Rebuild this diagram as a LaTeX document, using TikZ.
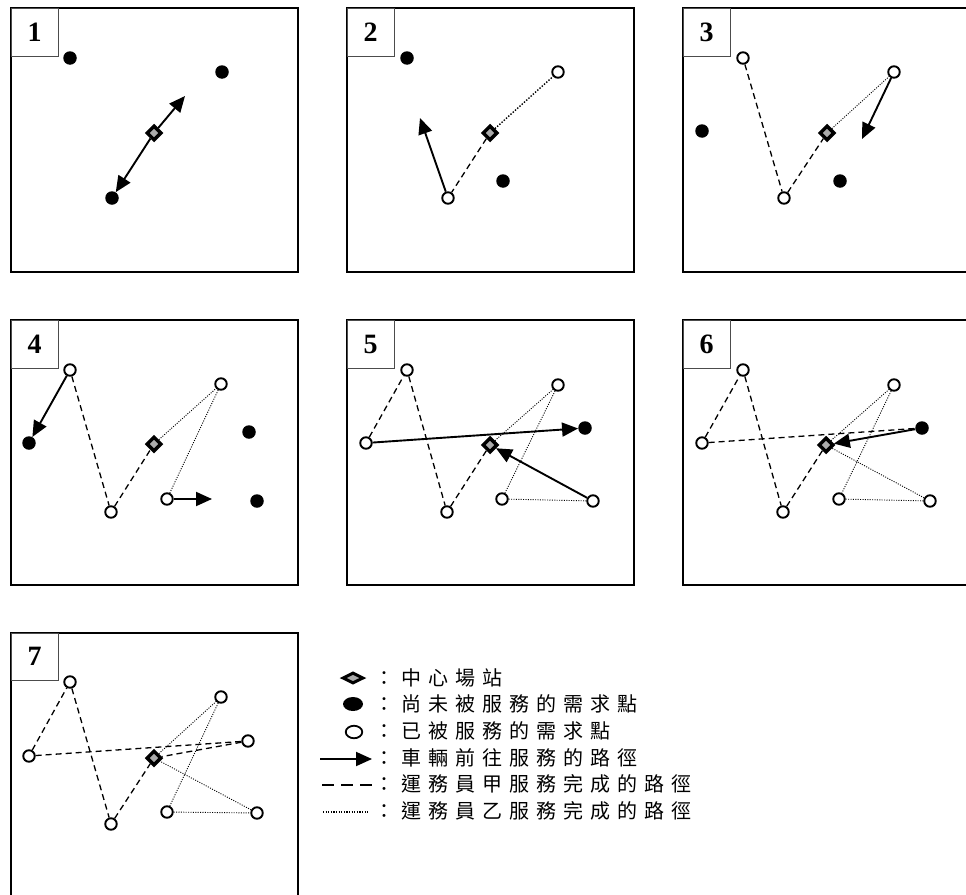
\documentclass[tikz,border=0pt]{standalone}
\usepackage{fontspec}
\setmainfont{Liberation Serif}
\newfontfamily\cjk[LetterSpace=35]{Noto Sans CJK TC}
\usetikzlibrary{shapes.geometric,arrows.meta}

\tikzset{
  panel/.style={draw=black,line width=1.3pt,fill=white},
  labelbox/.style={draw=black!70,line width=0.6pt,fill=white},
  num/.style={font=\fontsize{28}{28}\selectfont\bfseries,inner sep=0pt},
  depot/.style={shape=diamond,draw=black,line width=3.5pt,fill=black!33,minimum size=15pt,inner sep=0pt},
  unserved/.style={circle,fill=black,minimum size=13.5pt,inner sep=0pt},
  served/.style={circle,draw=black,line width=1.9pt,fill=white,minimum size=11.5pt,inner sep=0pt},
  moving/.style={line width=1.9pt,-{Triangle[length=16pt,width=14pt]}},
  routeA/.style={line width=1.3pt,dash pattern=on 6pt off 4pt},
  routeB/.style={line width=0.9pt,dash pattern=on 1pt off 1.4pt},
  routeBb/.style={line width=1.4pt,dash pattern=on 1.4pt off 1.6pt},
  legtxt/.style={anchor=west,inner sep=0pt,font=\cjk\fontsize{20}{20}\selectfont},
}

\begin{document}
\begin{tikzpicture}[x=1pt,y=-1pt]
\useasboundingbox (0,0) rectangle (966,894);
\clip (0,0) rectangle (966,894);

% ---------- panel 1 ----------
\begin{scope}[shift={(11,8)},name prefix=p1-]
  \draw[panel] (0,0) rectangle (287,264);
  \draw[labelbox] (0,0) rectangle (47,48);
  \node[num] (n) at (23.5,24) {1};
  \node[unserved] (A) at (59,50) {};
  \node[unserved] (B) at (211,64) {};
  \node[depot] (D) at (143,125) {};
  \node[unserved] (C) at (101,190) {};
  \coordinate (t) at (174,88);
  \draw[moving] (D) -- (t);
  \draw[moving] (D) -- (C);
\end{scope}

% ---------- panel 2 ----------
\begin{scope}[shift={(347,8)},name prefix=p2-]
  \draw[panel] (0,0) rectangle (287,264);
  \draw[labelbox] (0,0) rectangle (47,48);
  \node[num] (n) at (23.5,24) {2};
  \node[unserved] (A) at (60,50) {};
  \node[served] (B) at (211,64) {};
  \node[depot] (D) at (143,125) {};
  \node[unserved] (E) at (156,173) {};
  \node[served] (C) at (101,190) {};
  \coordinate (t) at (73,110);
  \draw[routeA] (D) -- (C);
  \draw[routeBb] (D) -- (B);
  \draw[moving] (C) -- (t);
\end{scope}

% ---------- panel 3 ----------
\begin{scope}[shift={(683,8)},name prefix=p3-]
  \draw[panel] (0,0) rectangle (287,264);
  \draw[labelbox] (0,0) rectangle (47,48);
  \node[num] (n) at (23.5,24) {3};
  \node[served] (A) at (60,50) {};
  \node[served] (B) at (211,64) {};
  \node[unserved] (F) at (19,123) {};
  \node[depot] (D) at (144,125) {};
  \node[unserved] (E) at (157,173) {};
  \node[served] (C) at (101,190) {};
  \coordinate (t) at (179,131);
  \draw[routeA] (A) -- (C);
  \draw[routeA] (C) -- (D);
  \draw[routeB] (D) -- (B);
  \draw[moving] (B) -- (t);
\end{scope}

% ---------- panel 4 ----------
\begin{scope}[shift={(11,320)},name prefix=p4-]
  \draw[panel] (0,0) rectangle (287,265);
  \draw[labelbox] (0,0) rectangle (47,48);
  \node[num] (n) at (23.5,24) {4};
  \node[served] (A) at (59,50) {};
  \node[unserved] (F) at (18,123) {};
  \node[depot] (D) at (143,124) {};
  \node[served] (B) at (210,64) {};
  \node[unserved] (G) at (238,112) {};
  \node[served] (E) at (156,179) {};
  \node[unserved] (H) at (246,181) {};
  \node[served] (C) at (100,192) {};
  \coordinate (t) at (201,179);
  \draw[routeA] (A) -- (C);
  \draw[routeA] (C) -- (D);
  \draw[routeB] (D) -- (B);
  \draw[routeB] (B) -- (E);
  \draw[moving] (A) -- (F);
  \draw[moving] (E) -- (t);
\end{scope}

% ---------- panel 5 ----------
\begin{scope}[shift={(347,320)},name prefix=p5-]
  \draw[panel] (0,0) rectangle (287,265);
  \draw[labelbox] (0,0) rectangle (47,48);
  \node[num] (n) at (23.5,24) {5};
  \node[served] (A) at (60,50) {};
  \node[served] (F) at (19,123) {};
  \node[depot] (D) at (143,125) {};
  \node[served] (B) at (211,65) {};
  \node[unserved] (G) at (238,108) {};
  \node[served] (E) at (155,179) {};
  \node[served] (H) at (246,181) {};
  \node[served] (C) at (100,192) {};
  \draw[routeA] (F) -- (A);
  \draw[routeA] (A) -- (C);
  \draw[routeA] (C) -- (D);
  \draw[routeB] (D) -- (B);
  \draw[routeB] (B) -- (E);
  \draw[routeB] (E) -- (H);
  \draw[moving] (F) -- (G);
  \draw[moving] (H) -- (D);
\end{scope}

% ---------- panel 6 ----------
\begin{scope}[shift={(683,320)},name prefix=p6-]
  \draw[panel] (0,0) rectangle (287,265);
  \draw[labelbox] (0,0) rectangle (47,48);
  \node[num] (n) at (23.5,24) {6};
  \node[served] (A) at (60,50) {};
  \node[served] (F) at (19,123) {};
  \node[depot] (D) at (143,125) {};
  \node[served] (B) at (211,65) {};
  \node[unserved] (G) at (239,108) {};
  \node[served] (E) at (156,179) {};
  \node[served] (H) at (247,181) {};
  \node[served] (C) at (100,192) {};
  \draw[routeA] (F) -- (A);
  \draw[routeA] (A) -- (C);
  \draw[routeA] (C) -- (D);
  \draw[routeA] (F) -- (G);
  \draw[routeB] (D) -- (B);
  \draw[routeB] (B) -- (E);
  \draw[routeB] (E) -- (H);
  \draw[routeB] (H) -- (D);
  \draw[moving] (G) -- (D);
\end{scope}

% ---------- panel 7 ----------
\begin{scope}[shift={(11,633)},name prefix=p7-]
  \draw[panel] (0,0) rectangle (287,265);
  \draw[labelbox] (0,0) rectangle (47,47);
  \node[num] (n) at (23.5,23.5) {7};
  \node[served] (A) at (59,49) {};
  \node[served] (F) at (18,123) {};
  \node[depot] (D) at (143,125) {};
  \node[served] (B) at (210,64) {};
  \node[served] (G) at (237,108) {};
  \node[served] (E) at (156,179) {};
  \node[served] (H) at (246,180) {};
  \node[served] (C) at (100,191) {};
  \draw[routeA] (F) -- (A);
  \draw[routeA] (A) -- (C);
  \draw[routeA] (C) -- (D);
  \draw[routeA] (F) -- (G);
  \draw[routeA] (G) -- (D);
  \draw[routeB] (D) -- (B);
  \draw[routeB] (B) -- (E);
  \draw[routeB] (E) -- (H);
  \draw[routeB] (H) -- (D);
\end{scope}

% ---------- legend ----------
\node[depot,minimum width=21pt,minimum height=11pt,line width=3pt] (ld) at (353,678) {};
\node[ellipse,fill=black,minimum width=20pt,minimum height=14pt,inner sep=0pt] (lu) at (353,704) {};
\node[ellipse,draw=black,line width=1.8pt,fill=white,minimum width=16.5pt,minimum height=12.5pt,inner sep=0pt] (ls) at (354,732) {};
\coordinate (la1) at (320,759);
\coordinate (la2) at (372,759);
\draw[moving] (la1) -- (la2);
\coordinate (lb1) at (322,785);
\coordinate (lb2) at (372,785);
\draw[line width=1.7pt,dash pattern=on 12pt off 7pt] (lb1) -- (lb2);
\coordinate (lc1) at (323,812);
\coordinate (lc2) at (369,812);
\draw[line width=1.5pt,dash pattern=on 1.2pt off 1.4pt] (lc1) -- (lc2);

\node[legtxt] (t1) at (374,678) {：中心場站};
\node[legtxt] (t2) at (374,704) {：尚未被服務的需求點};
\node[legtxt] (t3) at (374,731) {：已被服務的需求點};
\node[legtxt] (t4) at (374,758) {：車輛前往服務的路徑};
\node[legtxt] (t5) at (374,784) {：運務員甲服務完成的路徑};
\node[legtxt] (t6) at (374,811) {：運務員乙服務完成的路徑};
\end{tikzpicture}
\end{document}
